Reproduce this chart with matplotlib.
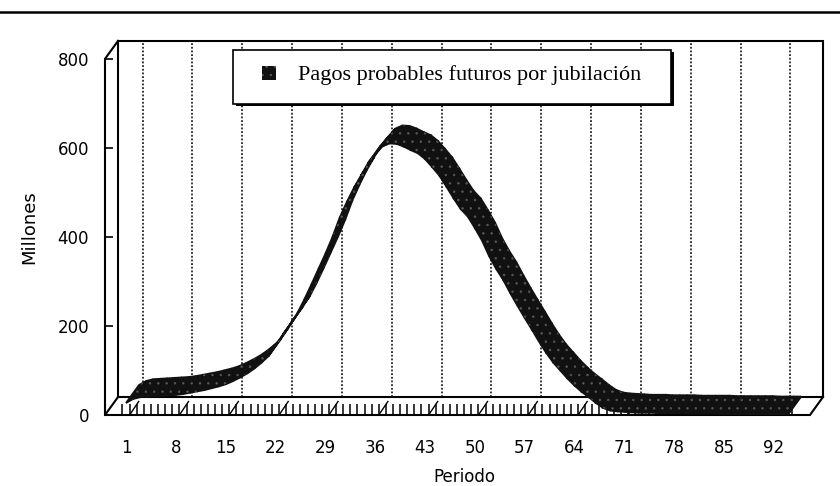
import matplotlib
matplotlib.use('Agg')
import matplotlib.pyplot as plt
from matplotlib.patches import Rectangle
from matplotlib.lines import Line2D
import numpy as np

# ---------------- data ----------------
periods = list(range(1, 95))
pagos = [27, 36, 40, 41, 42, 43, 44, 45, 47, 50,
         53, 56, 60, 64, 69, 76, 84, 93, 104, 117,
         132, 156, 180, 203, 227, 258, 292, 327, 362, 400,
         443, 478, 510, 538, 566, 585, 603, 610, 609, 603,
         595, 588, 575, 557, 538, 513, 487, 463, 446, 420,
         392, 357, 328, 303, 273, 245, 218, 192, 165, 140,
         118, 100, 82, 66, 52, 40, 27, 16, 10, 8,
         7, 6, 5, 5, 5, 4, 4, 4, 4, 3,
         3, 3, 3, 3, 2, 2, 2, 2, 2, 2,
         1, 1, 1, 1]
xtick_values = list(range(1, 93, 7))
xtick_labels = [str(t) for t in xtick_values]
ytick_values = [0, 200, 400, 600, 800]
ytick_labels = [str(t) for t in ytick_values]
series_label = 'Pagos probables futuros por jubilación'
x_title = 'Periodo'
y_title = 'Millones'

# ---------------- style ----------------
plt.rcParams['hatch.linewidth'] = 0.5
W, H = 840, 486
DC, DV = 1.83, 40.4          # pseudo-3D depth offset (categories, value units)
RIB = '#111111'
HATCH_C = '#5a5a5a'
SANS = ['DejaVu Sans']

fig = plt.figure(figsize=(W / 100, H / 100), dpi=100)
fig.patch.set_facecolor('white')
ax = fig.add_axes([105 / W, 1 - 415 / H, 718 / W, 375 / H])
x_lo, x_hi = -1.95, 98.9
y_top = 800 + DV + 2
ax.set_xlim(x_lo, x_hi)
ax.set_ylim(0, y_top)
for s in ax.spines.values():
    s.set_visible(False)
ax.patch.set_alpha(0)

# walls / floor outline
lk = dict(color='k', lw=1.5, clip_on=False, zorder=2, solid_joinstyle='miter')
ax.plot([x_lo, x_lo, x_lo + DC], [0, 800, 800 + DV], **lk)
ax.plot([x_lo + DC, x_lo + DC, x_hi, x_hi, x_lo + DC],
        [DV, 800 + DV, 800 + DV, DV, DV], **lk)
ax.plot([x_lo + DC, x_lo, x_hi - DC, x_hi], [DV, 0, 0, DV], **lk)

# dotted gridlines on back wall (between categories, every 7)
for t in xtick_values:
    b = t + 0.5 + DC
    ax.plot([b, b], [DV, 800 + DV], color='k', lw=1.1, ls=(0, (1.2, 1.2)),
            zorder=1.5, clip_on=False)

# floor tick marks (major, diagonal into depth)
for t in xtick_values:
    b = t + 0.5
    ax.plot([b, b + 0.7 * DC], [0, 0.75 * DV], color='k', lw=1.0, zorder=2.6,
            clip_on=False)

# ribbon
c = np.array(periods, float)
v = np.array(pagos, float)
quads = []
for i in range(len(c) - 1):
    xs = [c[i], c[i + 1], c[i + 1] + DC, c[i] + DC]
    ys = [v[i], v[i + 1], v[i + 1] + DV, v[i] + DV]
    quads.append((xs, ys))
for xs, ys in quads:
    ax.fill(xs, ys, facecolor=RIB, edgecolor=RIB, lw=1.3, zorder=3)
for xs, ys in quads:
    ax.fill(xs, ys, facecolor='none', edgecolor=HATCH_C, hatch='..',
            lw=0, zorder=3.1)

# axes ticks
ax.set_yticks(ytick_values)
ax.set_yticklabels(ytick_labels, fontfamily=SANS, fontsize=12)
ax.tick_params(axis='y', direction='in', length=6, width=1.2, pad=11.5,
               left=True, right=False)
ax.set_xticks(xtick_values)
ax.set_xticklabels(xtick_labels, fontfamily=SANS, fontsize=12)
ax.set_xticks(np.arange(0.5, 95, 1.0), minor=True)
ax.tick_params(axis='x', which='major', length=0, pad=17)
ax.tick_params(axis='x', which='minor', direction='in', length=8, width=1.1)
ax.set_xlabel(x_title, fontfamily=SANS, fontsize=12, labelpad=8)
ax.set_ylabel(y_title, fontfamily=SANS, fontsize=13, labelpad=14)

# legend (drawn manually to match box geometry)
lx0, ly0, lx1, ly1 = 233, 50, 671, 104
fig.add_artist(Rectangle(((lx0 + 2.5) / W, 1 - (ly1 + 2.5) / H),
                         (lx1 - lx0) / W, (ly1 - ly0) / H,
                         transform=fig.transFigure, facecolor='k',
                         edgecolor='k', lw=0, zorder=5))
fig.add_artist(Rectangle((lx0 / W, 1 - ly1 / H), (lx1 - lx0) / W,
                         (ly1 - ly0) / H, transform=fig.transFigure,
                         facecolor='white', edgecolor='k', lw=1.2, zorder=6))
fig.add_artist(Rectangle((262 / W, 1 - 80 / H), 14 / W, 14 / H,
                         transform=fig.transFigure, facecolor=RIB,
                         edgecolor=HATCH_C, hatch='..', lw=0, zorder=7))
fig.text(298 / W, 1 - 80 / H, series_label, family='Liberation Serif',
         fontsize=16, va='baseline', ha='left', zorder=7)

# scanned page rule at the top
fig.add_artist(Line2D([0, 1], [1 - 12 / H] * 2, transform=fig.transFigure,
                      color='k', lw=1.8))

fig.savefig('out.png', dpi=100)
